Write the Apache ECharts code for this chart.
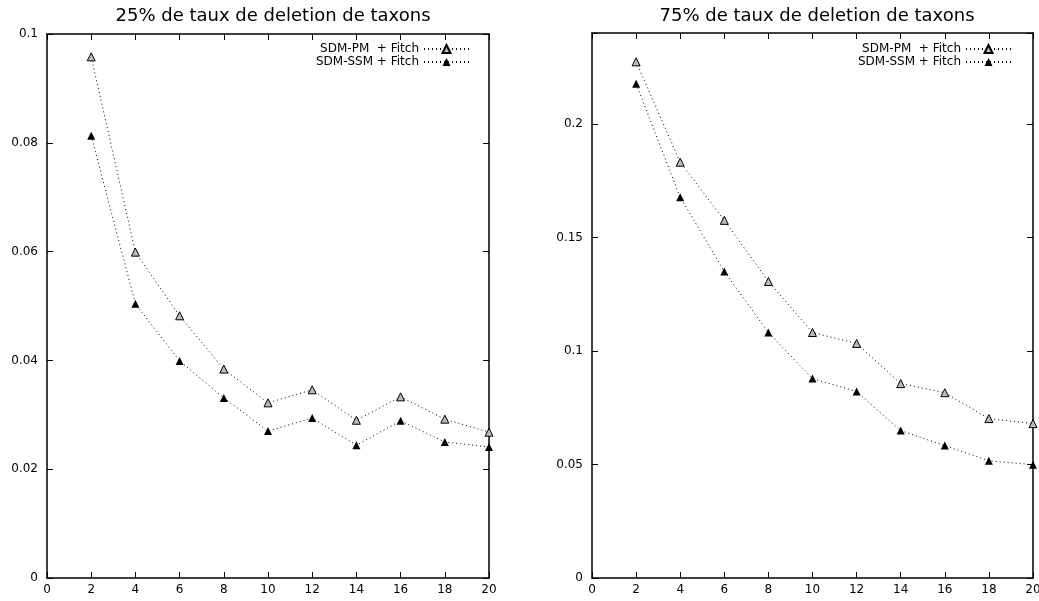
<!DOCTYPE html>
<html>
<head>
<meta charset="utf-8">
<script src="https://cdn.jsdelivr.net/npm/echarts@6/dist/echarts.min.js"></script>
<style>html,body{margin:0;padding:0;background:#fff}#c{width:1039px;height:601px}</style>
</head>
<body>
<div id="c"></div>
<script>
var xValues = [2, 4, 6, 8, 10, 12, 14, 16, 18, 20];
var title25 = "25% de taux de deletion de taxons";
var title75 = "75% de taux de deletion de taxons";
var pm25 = [0.0958, 0.0599, 0.0482, 0.0384, 0.0322, 0.0346, 0.0290, 0.0333, 0.0292, 0.0268];
var ssm25 = [0.0813, 0.0504, 0.0399, 0.0331, 0.0270, 0.0294, 0.0244, 0.0289, 0.0250, 0.0241];
var pm75 = [0.2273, 0.1831, 0.1575, 0.1306, 0.1081, 0.1033, 0.0856, 0.0816, 0.0702, 0.0680];
var ssm75 = [0.2176, 0.1677, 0.1350, 0.1081, 0.0878, 0.0821, 0.0649, 0.0583, 0.0516, 0.0499];
var namePM = "SDM-PM  + Fitch";
var nameSSM = "SDM-SSM + Fitch";

function pairs(ys) { return xValues.map(function (x, i) { return [x, ys[i]]; }); }

var font = "DejaVu Sans, Liberation Sans, sans-serif";
var axisLine = { show: true, onZero: false, lineStyle: { color: '#000', width: 1.5 } };
var tick = { show: true, inside: true, length: 6, lineStyle: { color: '#000', width: 1 } };
var lbl = { color: '#000', fontFamily: font, fontSize: 12 };

function xAx(grid, pos, showLabel) {
  return { type: 'value', gridIndex: grid, position: pos, min: 0, max: 20, interval: 2,
    axisLine: axisLine, axisTick: tick, splitLine: { show: false },
    axisLabel: Object.assign({ show: showLabel, margin: 6 }, lbl) };
}
function yAx(grid, pos, showLabel, max, interval) {
  return { type: 'value', gridIndex: grid, position: pos, min: 0, max: max, interval: interval,
    axisLine: axisLine, axisTick: tick, splitLine: { show: false },
    axisLabel: Object.assign({ show: showLabel, margin: 9,
      formatter: function (v) { return (Math.abs(v / interval - Math.round(v / interval)) < 1e-6) ? String(+v.toFixed(4)) : ''; } }, lbl) };
}
function ser(name, data, xi, yi, filled) {
  return { name: name, type: 'line', xAxisIndex: xi, yAxisIndex: yi, data: pairs(data),
    symbol: 'triangle', symbolSize: 8,
    itemStyle: { color: filled ? '#000' : '#bbb', borderColor: '#000', borderWidth: filled ? 0 : 1 },
    lineStyle: { color: '#000', width: 1, type: [1, 3] }, animation: false };
}
function legend(right) {
  return { orient: 'vertical', right: right, top: 38, align: 'right', itemGap: 1,
    itemWidth: 45, itemHeight: 10, data: [namePM, nameSSM], selectedMode: false,
    textStyle: { color: '#000', fontFamily: font, fontSize: 12 } };
}

var chart = echarts.init(document.getElementById('c'));
chart.setOption({
  backgroundColor: '#fff',
  animation: false,
  title: [
    { text: title25, left: 268, top: 2, textAlign: 'center', textStyle: { fontFamily: font, fontSize: 18, fontWeight: 'normal', color: '#000' } },
    { text: title75, left: 812, top: 2, textAlign: 'center', textStyle: { fontFamily: font, fontSize: 18, fontWeight: 'normal', color: '#000' } }
  ],
  grid: [
    { left: 47, right: 550, top: 34, bottom: 23, outerBoundsMode: 'none' },
    { left: 592, right: 6, top: 33, bottom: 23, outerBoundsMode: 'none' }
  ],
  xAxis: [xAx(0, 'bottom', true), xAx(0, 'top', false), xAx(1, 'bottom', true), xAx(1, 'top', false)],
  yAxis: [yAx(0, 'left', true, 0.1, 0.02), yAx(0, 'right', false, 0.1, 0.02),
          yAx(1, 'left', true, 0.24, 0.05), yAx(1, 'right', false, 0.24, 0.05)],
  legend: [legend(564), legend(22)],
  series: [
    ser(namePM, pm25, 0, 0, false),
    ser(nameSSM, ssm25, 0, 0, true),
    ser(namePM, pm75, 2, 2, false),
    ser(nameSSM, ssm75, 2, 2, true)
  ]
});
</script>
</body>
</html>
